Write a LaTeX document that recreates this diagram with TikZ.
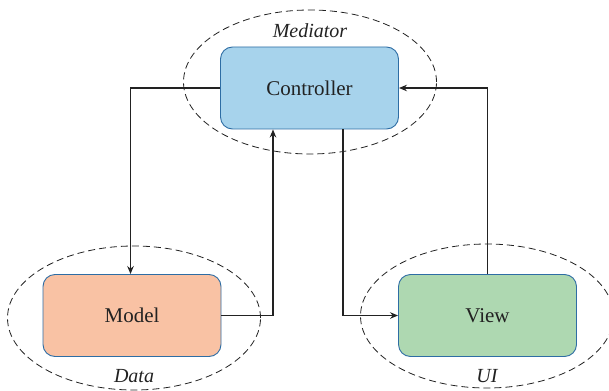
\documentclass[tikz,border=0pt]{standalone}
\usepackage{fontspec}
\setmainfont{Liberation Serif}
\usetikzlibrary{arrows.meta,shapes.geometric}
\definecolor{ctrlfill}{HTML}{A7D3EC}
\definecolor{modelfill}{HTML}{F9C2A4}
\definecolor{viewfill}{HTML}{AED8B1}
\definecolor{boxline}{HTML}{2E6DA4}
\definecolor{ink}{HTML}{222222}
\tikzset{
  part/.style={draw=boxline, line width=0.9pt, rounded corners=12pt,
    minimum width=178pt, minimum height=82pt, inner sep=0pt,
    font=\fontsize{21}{23}\selectfont, text=ink},
  group/.style={draw=ink, dashed, dash pattern=on 7pt off 4pt, line width=0.8pt,
    ellipse, inner sep=0pt, minimum width=253pt, minimum height=144pt},
  grouplabel/.style={font=\itshape\fontsize{20}{22}\selectfont, text=ink},
  link/.style={draw=ink, line width=1.5pt, -{Stealth[length=8pt,width=6.5pt]}}
}
\begin{document}
\begin{tikzpicture}[x=1pt,y=-1pt]
  \useasboundingbox (0,0) rectangle (609,390);
  % dashed ellipses marking each role
  \node[group] (med) at (310,82) {};
  \node[group] (data) at (134,318) {};
  \node[group] (ui) at (487,316) {};
  % components
  \node[part, fill=ctrlfill] (ctrl) at (309.5,88) {Controller};
  \node[part, fill=modelfill] (model) at (132,315.5) {Model};
  \node[part, fill=viewfill] (view) at (487.5,315.5) {View};
  % role labels
  \node[grouplabel] (lmed) at (310,31) {Mediator};
  \node[grouplabel] (ldata) at (134,376) {Data};
  \node[grouplabel] (lui) at (487,376) {UI};
  % connectors
  \draw[link] (ctrl.west) -| ([xshift=-1.5pt]model.north);
  \draw[link] (model.east) -| ([xshift=-36.5pt]ctrl.south);
  \draw[link] ([xshift=33.5pt]ctrl.south) |- (view.west);
  \draw[link] (view.north) |- (ctrl.east);
\end{tikzpicture}
\end{document}
